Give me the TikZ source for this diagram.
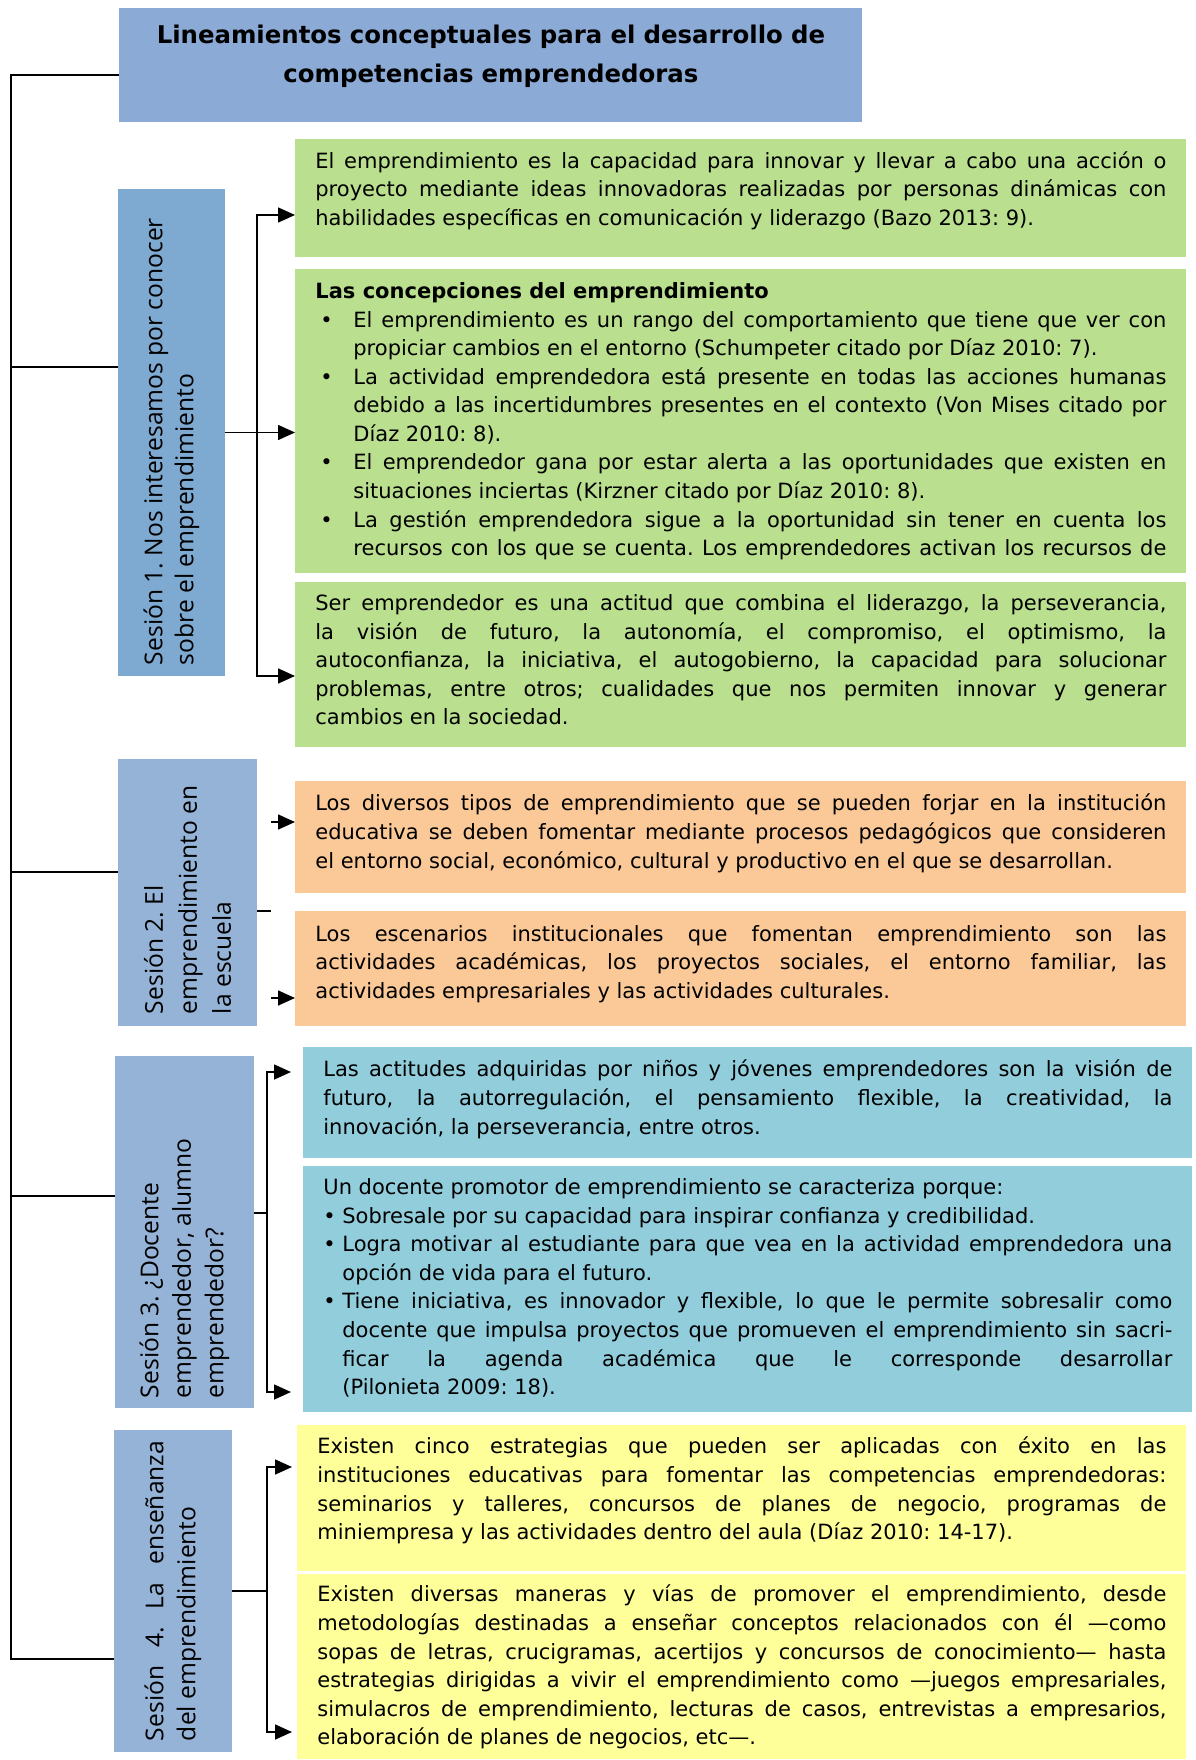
\documentclass[tikz,border=0pt]{standalone}
\usepackage{fontspec}
\usepackage{graphicx}
\setmainfont{DejaVu Sans}
\newfontfamily\sesfont{Open Sans}
\usetikzlibrary{arrows.meta}
\definecolor{titlecol}{RGB}{139,170,213}
\definecolor{sesa}{RGB}{126,169,209}
\definecolor{sesb}{RGB}{149,179,215}
\definecolor{greencol}{RGB}{186,224,143}
\definecolor{orangecol}{RGB}{251,201,152}
\definecolor{bluecol}{RGB}{146,205,220}
\definecolor{yellowcol}{RGB}{255,255,153}
\newcommand{\gitem}{\par\hangindent=19pt\hangafter=1\noindent\makebox[19pt][l]{\hspace{2.5pt}•}}
\newcommand{\citem}{\par\hangindent=9.5pt\hangafter=1\noindent\makebox[9.5pt][l]{•}}
\newcommand{\sestext}[2]{\rotatebox{90}{\parbox{#1}{#2}}}
\tolerance=10000
\hyphenpenalty=10000
\frenchspacing
\begin{document}
\begin{tikzpicture}[x=0.5pt,y=-0.5pt,
  >={Triangle[length=8.5pt,width=7.5pt]},
  link/.style={line width=0.8pt},
  sbox/.style={inner sep=0pt, fill=sesb},
  txtbox/.style={anchor=north west, inner xsep=10pt, inner ysep=0pt, align=justify,
    font=\frenchspacing\fontsize{10.5pt}{14.3pt}\selectfont}]
\useasboundingbox (0,0) rectangle (1195,1760);

\node[anchor=north west, fill=titlecol, inner sep=0pt, text width=371.5pt, align=center,
  text height=17.6pt, text depth=39.4pt, font=\bfseries\fontsize{12.2pt}{19.5pt}\selectfont]
  (title) at (119,8) {Lineamientos conceptuales para el desarrollo de\\competencias emprendedoras};

% sesiones
\node[sbox, fill=sesa, minimum width=53.5pt, minimum height=243.5pt,
  font=\sesfont\fontsize{12.3pt}{15.5pt}\selectfont] (s1) at (171.5,432.5)
  {\sestext{232.5pt}{\raggedright Sesión 1. Nos interesamos por conocer\\sobre el emprendimiento}};
\node[sbox, minimum width=69.5pt, minimum height=133.5pt,
  font=\sesfont\fontsize{12.3pt}{17pt}\selectfont] (s2) at (187.5,892.5)
  {\sestext{121.5pt}{\raggedright Sesión 2. El\\emprendimiento en\\la escuela}};
\node[sbox, minimum width=69.5pt, minimum height=176pt,
  font=\sesfont\fontsize{12.3pt}{16.25pt}\selectfont] (s3) at (184.5,1232)
  {\sestext{166pt}{\raggedright Sesión 3. ¿Docente\\emprendedor, alumno\\emprendedor?}};
\node[sbox, minimum width=59pt, minimum height=161pt,
  font=\sesfont\fontsize{12.3pt}{16pt}\selectfont] (s4) at (173,1591)
  {\sestext{150pt}{Sesión 4. La enseñanza\linebreak del emprendimiento}};

% sesion 1
\node[txtbox, fill=greencol, text width=425.5pt, text height=14.5pt, text depth=44.5pt] (g1) at (295,139)
  {El emprendimiento es la capacidad para innovar y llevar a cabo una acción o\linebreak
  proyecto mediante ideas innovadoras realizadas por personas dinámicas con\linebreak
  habilidades específicas en comunicación y liderazgo (Bazo 2013: 9).};
\node[txtbox, fill=greencol, text width=425.5pt, text height=14.5pt, text depth=137.5pt] (g2) at (295,269)
  {\textbf{Las concepciones del emprendimiento}
  \gitem El emprendimiento es un rango del comportamiento que tiene que ver con\linebreak
  propiciar cambios en el entorno (Schumpeter citado por Díaz 2010: 7).
  \gitem La actividad emprendedora está presente en todas las acciones humanas\linebreak
  debido a las incertidumbres presentes en el contexto (Von Mises citado por\linebreak
  Díaz 2010: 8).
  \gitem El emprendedor gana por estar alerta a las oportunidades que existen en\linebreak
  situaciones inciertas (Kirzner citado por Díaz 2010: 8).
  \gitem La gestión emprendedora sigue a la oportunidad sin tener en cuenta los\linebreak
  recursos con los que se cuenta. Los emprendedores activan los recursos de\parfillskip=0pt\par};
\node[txtbox, fill=greencol, text width=425.5pt, text height=14pt, text depth=68.5pt] (g3) at (295,582)
  {Ser emprendedor es una actitud que combina el liderazgo, la perseverancia,\linebreak
  la visión de futuro, la autonomía, el compromiso, el optimismo, la\linebreak
  autoconfianza, la iniciativa, el autogobierno, la capacidad para solucionar\linebreak
  problemas, entre otros; cualidades que nos permiten innovar y generar\linebreak
  cambios en la sociedad.};

% sesion 2
\node[txtbox, fill=orangecol, text width=425.5pt, text height=14.75pt, text depth=41.25pt] (o1) at (295,781)
  {Los diversos tipos de emprendimiento que se pueden forjar en la institución\linebreak
  educativa se deben fomentar mediante procesos pedagógicos que consideren\linebreak
  el entorno social, económico, cultural y productivo en el que se desarrollan.};
\node[txtbox, fill=orangecol, text width=425.5pt, text height=14.8pt, text depth=42.7pt] (o2) at (295,911)
  {Los escenarios institucionales que fomentan emprendimiento son las\linebreak
  actividades académicas, los proyectos sociales, el entorno familiar, las\linebreak
  actividades empresariales y las actividades culturales.};

% sesion 3
\node[txtbox, fill=bluecol, text width=424.5pt, text height=14.7pt, text depth=40.8pt] (c1) at (303,1047)
  {Las actitudes adquiridas por niños y jóvenes emprendedores son la visión de\linebreak
  futuro, la autorregulación, el pensamiento flexible, la creatividad, la\linebreak
  innovación, la perseverancia, entre otros.};
\node[txtbox, fill=bluecol, text width=424.5pt, text height=14pt, text depth=109pt] (c2) at (303,1166)
  {Un docente promotor de emprendimiento se caracteriza porque:
  \citem Sobresale por su capacidad para inspirar confianza y credibilidad.
  \citem Logra motivar al estudiante para que vea en la actividad emprendedora una\linebreak
  opción de vida para el futuro.
  \citem Tiene iniciativa, es innovador y flexible, lo que le permite sobresalir como\linebreak
  docente que impulsa proyectos que promueven el emprendimiento sin sacri-\linebreak
  ficar la agenda académica que le corresponde desarrollar\linebreak
  (Pilonieta 2009: 18).\par};

% sesion 4
\node[txtbox, fill=yellowcol, text width=424.5pt, text height=14.2pt, text depth=58.8pt] (y1) at (297,1425)
  {Existen cinco estrategias que pueden ser aplicadas con éxito en las\linebreak
  instituciones educativas para fomentar las competencias emprendedoras:\linebreak
  seminarios y talleres, concursos de planes de negocio, programas de\linebreak
  miniempresa y las actividades dentro del aula (Díaz 2010: 14-17).};
\node[txtbox, fill=yellowcol, text width=424.5pt, text height=13.75pt, text depth=78.75pt] (y2) at (297,1574)
  {Existen diversas maneras y vías de promover el emprendimiento, desde\linebreak
  metodologías destinadas a enseñar conceptos relacionados con él —como\linebreak
  sopas de letras, crucigramas, acertijos y concursos de conocimiento— hasta\linebreak
  estrategias dirigidas a vivir el emprendimiento como —juegos empresariales,\linebreak
  simulacros de emprendimiento, lecturas de casos, entrevistas a empresarios,\linebreak
  elaboración de planes de negocios, etc—.};

% linea principal
\coordinate (bt) at (11,75);
\coordinate (bb) at (11,1659);
\coordinate (b1) at (11,367);
\coordinate (b2) at (11,872);
\coordinate (b3) at (11,1196);
\draw[link] (bt -| title.west) -- (bt) -- (bb) -- (bb -| s4.west);
\draw[link] (b1) -- (b1 -| s1.west);
\draw[link] (b2) -- (b2 -| s2.west);
\draw[link] (b3) -- (b3 -| s3.west);

% flechas
\coordinate (k1a) at (257,215);
\coordinate (k1b) at (257,676);
\draw[link,<->] (k1a -| g1.west) -- (k1a) -- (k1b) -- (k1b -| g3.west);
\draw[link,->] (s1.east) -- (s1.east -| g2.west);

\coordinate (k2a) at (271,822);
\coordinate (k2s) at (271,911);
\coordinate (k2b) at (271,998);
\draw[link] (s2.east |- k2s) -- (k2s);
\draw[link,->] (k2a) -- (k2a -| o1.west);
\draw[link,->] (k2b) -- (k2b -| o2.west);

\coordinate (k3a) at (267,1072);
\coordinate (k3s) at (267,1213);
\coordinate (k3b) at (267,1392);
\draw[link,<->,shorten <=6pt,shorten >=6pt] (k3a -| c1.west) -- (k3a) -- (k3b) -- (k3b -| c2.west);
\draw[link] (s3.east |- k3s) -- (k3s);

\coordinate (k4a) at (267,1467);
\coordinate (k4b) at (267,1732);
\draw[link,<->,shorten <=2.5pt,shorten >=2.5pt] (k4a -| y1.west) -- (k4a) -- (k4b) -- (k4b -| y2.west);
\draw[link] (s4.east) -- (s4.east -| k4a);
\end{tikzpicture}
\end{document}
